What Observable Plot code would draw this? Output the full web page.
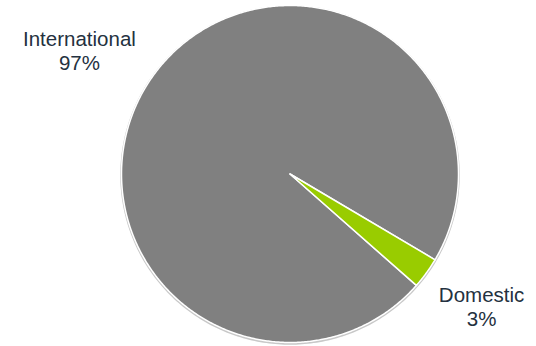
<!DOCTYPE html>
<html>
<head>
<meta charset="utf-8">
<script src="https://cdn.jsdelivr.net/npm/d3@7"></script>
<script src="https://cdn.jsdelivr.net/npm/@observablehq/plot@0.6"></script>
<style>
  html, body { margin: 0; padding: 0; background: #fff; }
  #chart { width: 536px; height: 346px; }
</style>
</head>
<body>
<div id="chart"></div>
<script>
const categories = ["International", "Domestic"];
const values = [97, 3];
const labels = ["97%", "3%"];
const colors = ["#808080", "#99CC00"];

const startDeg = 131.4;
const pie = d3.pie().sort(null)
  .startAngle(startDeg * Math.PI / 180)
  .endAngle(startDeg * Math.PI / 180 + 2 * Math.PI);
const arcs = pie(values);

const pts = [];
arcs.forEach((a, i) => {
  const name = categories[i];
  pts.push({name, x: 0, y: 0});
  const n = Math.max(2, Math.ceil((a.endAngle - a.startAngle) / (Math.PI / 360)));
  for (let k = 0; k <= n; k++) {
    const t = a.startAngle + (a.endAngle - a.startAngle) * k / n;
    pts.push({name, x: Math.sin(t), y: Math.cos(t)});
  }
  pts.push({name, x: 0, y: 0});
});

const ring = d3.range(0, 361).map(d => ({x: Math.sin(d * Math.PI / 180), y: Math.cos(d * Math.PI / 180)}));

const labelData = arcs.map((a, i) => {
  const m = (a.startAngle + a.endAngle) / 2;
  return {name: categories[i], text: categories[i] + "\n" + labels[i], x: 1.42 * Math.sin(m), y: 1.42 * Math.cos(m)};
});

const textStyle = {fontSize: 20.5, lineHeight: 1.17, fill: "#243140", fontFamily: "Liberation Sans, Arial, sans-serif"};

const chart = Plot.plot({
  width: 536,
  height: 346,
  marginLeft: 121,
  marginRight: 78,
  marginTop: 5,
  marginBottom: 4,
  x: {domain: [-1, 1], axis: null},
  y: {domain: [-1, 1], axis: null},
  color: {domain: categories, range: colors},
  style: {background: "#fff", overflow: "visible"},
  marks: [
    Plot.line(ring, {x: "x", y: "y", stroke: "#c8c8c8", strokeWidth: 2.5, dy: 1}),
    Plot.line(pts, {x: "x", y: "y", z: "name", fill: "name", stroke: "white", strokeWidth: 1.5, strokeLinejoin: "round", curve: "linear"}),
    Plot.text(labelData.filter(d => d.name === "International"), {x: "x", y: "y", text: "text", ...textStyle, dx: -17, dy: 17}),
    Plot.text(labelData.filter(d => d.name === "Domestic"), {x: "x", y: "y", text: "text", ...textStyle, dx: -2, dy: -8})
  ]
});
document.getElementById("chart").appendChild(chart);
</script>
</body>
</html>
